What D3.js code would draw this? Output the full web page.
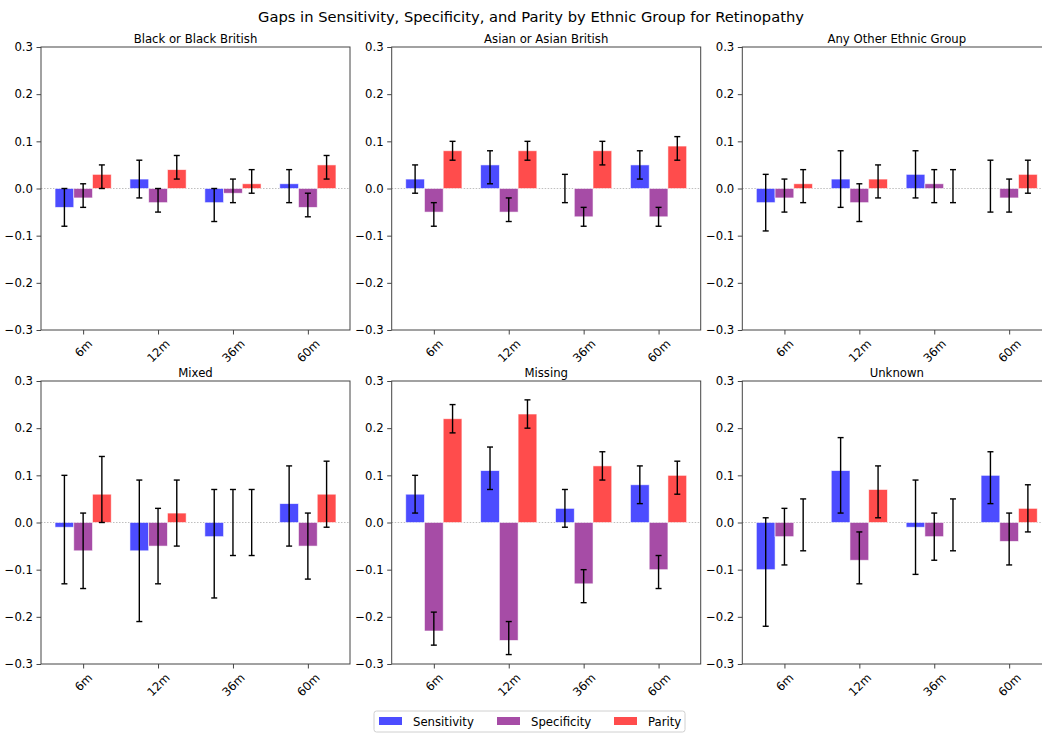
<!DOCTYPE html>
<html lang="en">
<head>
<meta charset="UTF-8" />
<script src="https://d3js.org/d3.v7.min.js"></script>
<style type="text/css">
  body { margin: 0; background: #fff; }
  text { font-family: "DejaVu Sans", sans-serif; fill: #000; }
</style>
<title>Retinopathy gaps</title>
</head>
<body>
<script type="text/javascript">
// Data
var groups = ["Black or Black British", "Asian or Asian British", "Any Other Ethnic Group",
              "Mixed", "Missing", "Unknown"];
var timepoints = ["6m", "12m", "36m", "60m"];
var seriesNames = ["Sensitivity", "Specificity", "Parity"];
var seriesColors = ["rgb(0,0,255)", "rgb(128,0,128)", "rgb(255,0,0)"];

// one row per group, one value per timepoint
var sensitivity = [
  [-0.04, 0.02, -0.03, 0.01],
  [0.02, 0.05, 0.00, 0.05],
  [-0.03, 0.02, 0.03, 0.00],
  [-0.01, -0.06, -0.03, 0.04],
  [0.06, 0.11, 0.03, 0.08],
  [-0.10, 0.11, -0.01, 0.10]
];
var sensLow = [
  [-0.08, -0.02, -0.07, -0.03],
  [-0.01, 0.01, -0.03, 0.02],
  [-0.09, -0.04, -0.02, -0.05],
  [-0.13, -0.21, -0.16, -0.05],
  [0.02, 0.07, -0.01, 0.04],
  [-0.22, 0.02, -0.11, 0.04]
];
var sensHigh = [
  [0.00, 0.06, 0.00, 0.04],
  [0.05, 0.08, 0.03, 0.08],
  [0.03, 0.08, 0.08, 0.06],
  [0.10, 0.09, 0.07, 0.12],
  [0.10, 0.16, 0.07, 0.12],
  [0.01, 0.18, 0.09, 0.15]
];

var specificity = [
  [-0.02, -0.03, -0.01, -0.04],
  [-0.05, -0.05, -0.06, -0.06],
  [-0.02, -0.03, 0.01, -0.02],
  [-0.06, -0.05, 0.00, -0.05],
  [-0.23, -0.25, -0.13, -0.10],
  [-0.03, -0.08, -0.03, -0.04]
];
var specLow = [
  [-0.04, -0.05, -0.03, -0.06],
  [-0.08, -0.07, -0.08, -0.08],
  [-0.05, -0.07, -0.03, -0.05],
  [-0.14, -0.13, -0.07, -0.12],
  [-0.26, -0.28, -0.17, -0.14],
  [-0.09, -0.13, -0.08, -0.09]
];
var specHigh = [
  [0.01, 0.00, 0.02, -0.01],
  [-0.03, -0.02, -0.04, -0.04],
  [0.02, 0.01, 0.04, 0.02],
  [0.02, 0.03, 0.07, 0.02],
  [-0.19, -0.21, -0.10, -0.07],
  [0.03, -0.02, 0.02, 0.02]
];

var parity = [
  [0.03, 0.04, 0.01, 0.05],
  [0.08, 0.08, 0.08, 0.09],
  [0.01, 0.02, 0.00, 0.03],
  [0.06, 0.02, 0.00, 0.06],
  [0.22, 0.23, 0.12, 0.10],
  [0.00, 0.07, 0.00, 0.03]
];
var parityLow = [
  [0.00, 0.02, -0.01, 0.02],
  [0.06, 0.06, 0.05, 0.06],
  [-0.03, -0.02, -0.03, -0.01],
  [0.00, -0.05, -0.07, -0.01],
  [0.19, 0.20, 0.09, 0.06],
  [-0.06, 0.01, -0.06, -0.02]
];
var parityHigh = [
  [0.05, 0.07, 0.04, 0.07],
  [0.10, 0.10, 0.10, 0.11],
  [0.04, 0.05, 0.04, 0.06],
  [0.14, 0.09, 0.07, 0.13],
  [0.25, 0.26, 0.15, 0.13],
  [0.05, 0.12, 0.05, 0.08]
];

var yTicks = [-0.3, -0.2, -0.1, 0.0, 0.1, 0.2, 0.3];

// figure layout
var W = 1042, H = 734;
var panelW = 309, panelH = 283;
var colX = [41, 391.7, 742.3];
var rowY = [47, 381];
var barW = 0.25;

var values = [sensitivity, specificity, parity];
var lows = [sensLow, specLow, parityLow];
var highs = [sensHigh, specHigh, parityHigh];

var svg = d3.select("body").append("svg")
    .attr("width", W)
    .attr("height", H);

// main title
svg.append("text")
   .attr("x", 531)
   .attr("y", 22)
   .attr("text-anchor", "middle")
   .style("font-size", "14.7px")
   .text("Gaps in Sensitivity, Specificity, and Parity by Ethnic Group for Retinopathy");

var xScale = d3.scaleLinear()
    .domain([-0.5625, 3.5625])
    .range([0, panelW]);

var yScale = d3.scaleLinear()
    .domain([-0.3, 0.3])
    .range([panelH, 0]);

groups.forEach(function(name, gi) {
  var g = svg.append("g")
      .attr("transform", "translate(" + colX[gi % 3] + "," + rowY[Math.floor(gi / 3)] + ")");

  // zero reference line
  g.append("line")
   .attr("x1", 0).attr("x2", panelW)
   .attr("y1", yScale(0)).attr("y2", yScale(0))
   .attr("stroke", "gray")
   .attr("stroke-opacity", 0.5)
   .attr("stroke-dasharray", "1.5,1.5")
   .attr("stroke-width", 1);

  // bars and error bars, one series at a time
  seriesNames.forEach(function(s, si) {
    var rows = timepoints.map(function(t, ti) {
      return {
        x: ti + (si - 1) * barW,
        v: values[si][gi][ti],
        lo: lows[si][gi][ti],
        hi: highs[si][gi][ti]
      };
    });

    g.selectAll(".bar" + si)
     .data(rows)
     .enter()
     .append("rect")
     .attr("class", "bar" + si)
     .attr("x", function(d) { return xScale(d.x - barW / 2); })
     .attr("width", xScale(barW) - xScale(0))
     .attr("y", function(d) { return yScale(Math.max(0, d.v)); })
     .attr("height", function(d) { return Math.abs(yScale(d.v) - yScale(0)); })
     .attr("fill", seriesColors[si])
     .attr("fill-opacity", 0.7)
     .attr("stroke", "white")
     .attr("stroke-opacity", 0.7)
     .attr("stroke-width", 0.8);

    var eb = g.selectAll(".err" + si)
     .data(rows)
     .enter()
     .append("g")
     .attr("class", "err" + si)
     .attr("stroke", "black")
     .attr("stroke-width", 1.4);

    eb.append("line")
      .attr("x1", function(d) { return xScale(d.x); })
      .attr("x2", function(d) { return xScale(d.x); })
      .attr("y1", function(d) { return yScale(d.lo); })
      .attr("y2", function(d) { return yScale(d.hi); });
    eb.append("line")
      .attr("x1", function(d) { return xScale(d.x) - 3; })
      .attr("x2", function(d) { return xScale(d.x) + 3; })
      .attr("y1", function(d) { return yScale(d.lo); })
      .attr("y2", function(d) { return yScale(d.lo); });
    eb.append("line")
      .attr("x1", function(d) { return xScale(d.x) - 3; })
      .attr("x2", function(d) { return xScale(d.x) + 3; })
      .attr("y1", function(d) { return yScale(d.hi); })
      .attr("y2", function(d) { return yScale(d.hi); });
  });

  // frame
  g.append("rect")
   .attr("width", panelW)
   .attr("height", panelH)
   .attr("fill", "none")
   .attr("stroke", "#444")
   .attr("stroke-width", 1);

  // y axis
  var yAxis = g.append("g")
     .call(d3.axisLeft(yScale)
        .tickValues(yTicks)
        .tickFormat(d3.format(".1f"))
        .tickSize(4.5)
        .tickPadding(3.5));
  yAxis.select(".domain").remove();
  yAxis.selectAll("line").attr("stroke", "#444");
  yAxis.selectAll("text")
       .style("font-family", "DejaVu Sans")
       .style("font-size", "11.7px");

  // x axis, rotated labels centred under the ticks
  var xAxis = g.append("g")
     .attr("transform", "translate(0," + panelH + ")")
     .call(d3.axisBottom(xScale)
        .tickValues([0, 1, 2, 3])
        .tickFormat(function(d) { return timepoints[d]; })
        .tickSize(4.5));
  xAxis.select(".domain").remove();
  xAxis.selectAll("line").attr("stroke", "#444");
  xAxis.selectAll("text")
       .style("font-family", "DejaVu Sans")
       .style("font-size", "11.7px")
       .attr("dy", null)
       .attr("y", null)
       .attr("dominant-baseline", "central")
       .attr("text-anchor", "middle")
       .attr("transform", function() {
          var w = this.getComputedTextLength();
          var half = (w + 11.7) * 0.7071 / 2;
          return "translate(0," + (7.5 + half) + ") rotate(-45)";
       });

  // subplot title
  g.append("text")
   .attr("x", panelW / 2)
   .attr("y", -4.5)
   .attr("text-anchor", "middle")
   .style("font-size", "11.7px")
   .text(name);
});

// legend
var legend = svg.append("g").attr("transform", "translate(374,711)");
legend.append("rect")
      .attr("width", 311)
      .attr("height", 21)
      .attr("rx", 2.5)
      .attr("fill", "white")
      .attr("stroke", "#d0d0d0")
      .attr("stroke-width", 1);
var legendX = [5, 123, 240];
seriesNames.forEach(function(s, si) {
  legend.append("rect")
        .attr("x", legendX[si])
        .attr("y", 6)
        .attr("width", 23)
        .attr("height", 8)
        .attr("fill", seriesColors[si])
        .attr("fill-opacity", 0.7);
  legend.append("text")
        .attr("x", legendX[si] + 34)
        .attr("y", 14.5)
        .style("font-size", "11.7px")
        .text(s);
});
</script>
</body>
</html>
